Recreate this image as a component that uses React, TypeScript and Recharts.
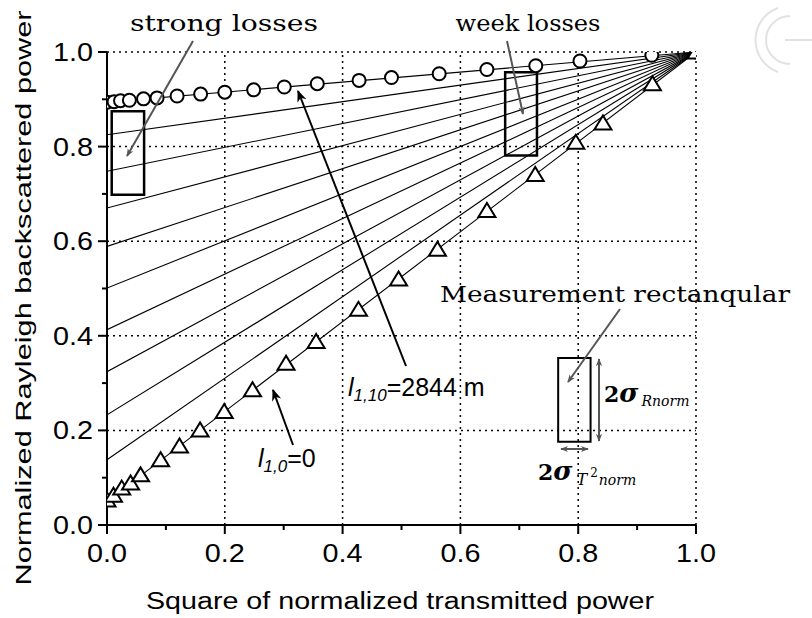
import React from "react";
import { ComposedChart, Scatter, XAxis, YAxis, ReferenceLine, ReferenceArea } from "recharts";

// axis ticks (minor every 0.1, labels / grid every 0.2)
const axisTicks = [0, 0.1, 0.2, 0.3, 0.4, 0.5, 0.6, 0.7, 0.8, 0.9, 1.0];
const majorTicks = [0, 0.2, 0.4, 0.6, 0.8, 1.0];
const gridTicks = [0.2, 0.4, 0.6, 0.8, 1.0];

// y-intercepts of the fan of lines that all meet at (1, 1)
const fanIntercepts = [0.894, 0.825, 0.748, 0.67, 0.589, 0.501, 0.413, 0.324, 0.233, 0.138, 0.05];

// circles: strong losses curve
const circleX = [0.0, 0.012, 0.023, 0.038, 0.062, 0.085, 0.119, 0.159, 0.2, 0.249, 0.301, 0.357, 0.428, 0.483, 0.564, 0.645, 0.728, 0.803, 0.925, 1.0];
const circleY = [0.894, 0.895, 0.897, 0.898, 0.901, 0.903, 0.907, 0.911, 0.915, 0.92, 0.926, 0.933, 0.94, 0.946, 0.954, 0.963, 0.971, 0.981, 0.993, 1.0];

// triangles: zero losses curve
const triangleX = [0.0, 0.011, 0.025, 0.04, 0.057, 0.091, 0.123, 0.158, 0.199, 0.247, 0.304, 0.355, 0.427, 0.495, 0.561, 0.645, 0.727, 0.796, 0.842, 0.926, 1.0];
const triangleY = [0.053, 0.063, 0.078, 0.089, 0.106, 0.138, 0.167, 0.201, 0.24, 0.286, 0.342, 0.388, 0.456, 0.52, 0.583, 0.665, 0.741, 0.809, 0.85, 0.933, 1.0];

const circles = circleX.map((x, i) => ({ x, y: circleY[i] }));
const triangles = triangleX.map((x, i) => ({ x, y: triangleY[i] }));
const fanLines = fanIntercepts.map((b) => [
  { x: 0, y: b },
  { x: 1, y: 1 },
]);

const sans = "'Liberation Sans', Arial, sans-serif";
const serif = "'DejaVu Serif', 'Liberation Serif', serif";

const isMajor = (v: number) => majorTicks.some((m) => Math.abs(m - v) < 1e-6);

const XTick = ({ x, y, payload }: any) => {
  const major = isMajor(payload.value);
  return (
    <g>
      <line x1={x} x2={x} y1={payload.value === 0 ? y - 6 : y} y2={y + (major ? 9 : 5)} stroke="#000" strokeWidth={2} />
      {major && (
        <text x={x} y={y + 37} textAnchor="middle" fontFamily={sans} fontSize={26} textLength={40} lengthAdjust="spacingAndGlyphs" fill="#000">
          {payload.value.toFixed(1)}
        </text>
      )}
    </g>
  );
};

const YTick = ({ x, y, payload }: any) => {
  const major = isMajor(payload.value);
  return (
    <g>
      <line x1={x - (major ? 9 : 5)} x2={payload.value === 0 ? x + 6 : x} y1={y} y2={y} stroke="#000" strokeWidth={2} />
      {major && (
        <text x={x - 54} y={y + 9} fontFamily={sans} fontSize={26} textLength={40} lengthAdjust="spacingAndGlyphs" fill="#000">
          {payload.value.toFixed(1)}
        </text>
      )}
    </g>
  );
};

const Circle = ({ cx, cy }: any) => (
  <circle cx={cx} cy={cy} r={6.5} fill="#fff" stroke="#000" strokeWidth={2} />
);

const Triangle = ({ cx, cy }: any) => (
  <path
    d={`M${cx},${cy - 7.5} L${cx - 8.5},${cy + 6.5} L${cx + 8.5},${cy + 6.5} Z`}
    fill="#fff"
    stroke="#000"
    strokeWidth={2}
  />
);

const NoDot = () => <g />;

function Overlay() {
  return (
    <svg width={812} height={618} style={{ position: "absolute", left: 0, top: 0, pointerEvents: "none" }}>
      <defs>
        <marker id="hg" viewBox="0 0 10 10" refX="9" refY="5" markerWidth="8" markerHeight="8" orient="auto-start-reverse" markerUnits="userSpaceOnUse">
          <path d="M0,1 L10,5 L0,9 L3,5 Z" fill="#555" />
        </marker>
        <marker id="hb" viewBox="0 0 10 10" refX="9" refY="5" markerWidth="12" markerHeight="12" orient="auto" markerUnits="userSpaceOnUse">
          <path d="M0,1 L10,5 L0,9 L3,5 Z" fill="#000" />
        </marker>
      </defs>

      {/* watermark */}
      <path d="M778,8 A34,34 0 0 0 778,72" fill="none" stroke="#e2e2e2" strokeWidth={2} />
      <path d="M790,16 A22,22 0 0 0 790,64" fill="none" stroke="#e2e2e2" strokeWidth={2} />
      <line x1={785} x2={812} y1={40} y2={40} stroke="#e2e2e2" strokeWidth={2} />

      {/* axis titles */}
      <text x={0} y={0} transform="translate(31,298) rotate(-90)" textAnchor="middle" fontFamily={sans} fontSize={22} textLength={575} lengthAdjust="spacingAndGlyphs">
        Normalized Rayleigh backscattered power
      </text>
      <text x={400} y={609} textAnchor="middle" fontFamily={sans} fontSize={23} textLength={508} lengthAdjust="spacingAndGlyphs">
        Square of normalized transmitted power
      </text>

      {/* loss annotations */}
      <text x={224} y={31} textAnchor="middle" fontFamily={serif} fontSize={23} textLength={188} lengthAdjust="spacingAndGlyphs">
        strong losses
      </text>
      <line x1={193} y1={41} x2={127} y2={156} stroke="#555" strokeWidth={2} markerEnd="url(#hg)" />
      <text x={528} y={31} textAnchor="middle" fontFamily={serif} fontSize={23} textLength={145} lengthAdjust="spacingAndGlyphs">
        week losses
      </text>
      <line x1={507} y1={41} x2={523} y2={114} stroke="#555" strokeWidth={2} markerEnd="url(#hg)" />

      {/* line labels */}
      <line x1={406} y1={366} x2={298} y2={91} stroke="#000" strokeWidth={2} markerEnd="url(#hb)" />
      <text x={348} y={396} fontFamily={sans} fontSize={25}>
        <tspan fontStyle="italic">l</tspan>
        <tspan fontStyle="italic" fontSize={17} dy={5}>1,10</tspan>
        <tspan dy={-5}>=2844 m</tspan>
      </text>
      <line x1={293} y1={445} x2={273} y2={390} stroke="#000" strokeWidth={2} markerEnd="url(#hb)" />
      <text x={258} y={467} fontFamily={sans} fontSize={25}>
        <tspan fontStyle="italic">l</tspan>
        <tspan fontStyle="italic" fontSize={17} dy={5}>1,0</tspan>
        <tspan dy={-5}>=0</tspan>
      </text>

      {/* measurement rectangle */}
      <text x={440} y={302} fontFamily={serif} fontSize={23} textLength={350} lengthAdjust="spacingAndGlyphs">
        Measurement rectanqular
      </text>
      <line x1={620} y1={309} x2={568} y2={382} stroke="#555" strokeWidth={2} markerEnd="url(#hg)" />
      <line x1={599} y1={359} x2={599} y2={441} stroke="#555" strokeWidth={2} markerStart="url(#hg)" markerEnd="url(#hg)" />
      <line x1={561} y1={449} x2={588} y2={449} stroke="#555" strokeWidth={2} markerStart="url(#hg)" markerEnd="url(#hg)" />
      <text x={604} y={402} fontFamily={serif} fontSize={22}>
        <tspan fontWeight="bold">2</tspan>
        <tspan fontWeight="bold" fontStyle="italic" fontSize={26}>σ</tspan>
        <tspan fontStyle="italic" fontSize={14} dy={4} dx={3}>Rnorm</tspan>
      </text>
      <text x={538} y={480} fontFamily={serif} fontSize={22}>
        <tspan fontWeight="bold">2</tspan>
        <tspan fontWeight="bold" fontStyle="italic" fontSize={26}>σ</tspan>
        <tspan fontStyle="italic" fontSize={16} dx={4} dy={5}>T</tspan>
        <tspan fontSize={12} dx={3} dy={-8}>2</tspan>
        <tspan fontStyle="italic" fontSize={14} dx={1} dy={8}>norm</tspan>
      </text>
    </svg>
  );
}

export default function App() {
  return (
    <div style={{ position: "absolute", left: 0, top: 0, width: 812, height: 618, background: "#fff" }}>
      <ComposedChart width={812} height={618} margin={{ top: 52, right: 116, left: 37, bottom: 33 }}>
        <XAxis
          type="number"
          dataKey="x"
          domain={[0, 1]}
          ticks={axisTicks}
          interval={0}
          tickSize={0}
          tickMargin={0}
          tickLine={false}
          tick={<XTick />}
          axisLine={{ stroke: "#000", strokeWidth: 2 }}
          height={60}
          allowDataOverflow
        />
        <YAxis
          type="number"
          dataKey="y"
          domain={[0, 1]}
          ticks={axisTicks}
          interval={0}
          tickSize={0}
          tickMargin={0}
          tickLine={false}
          tick={<YTick />}
          axisLine={{ stroke: "#000", strokeWidth: 2 }}
          width={70}
          allowDataOverflow
        />
        {gridTicks.map((v) => (
          <ReferenceLine key={`gx${v}`} x={v} stroke="#000" strokeWidth={1.5} strokeDasharray="2 4" />
        ))}
        {gridTicks.map((v) => (
          <ReferenceLine key={`gy${v}`} y={v} stroke="#000" strokeWidth={1.5} strokeDasharray="2 4" />
        ))}
        <ReferenceArea x1={0.008} x2={0.063} y1={0.698} y2={0.875} fill="none" stroke="#000" strokeWidth={2.5} fillOpacity={0} />
        <ReferenceArea x1={0.676} x2={0.73} y1={0.781} y2={0.957} fill="none" stroke="#000" strokeWidth={2.5} fillOpacity={0} />
        <ReferenceArea x1={0.766} x2={0.821} y1={0.176} y2={0.353} fill="none" stroke="#000" strokeWidth={2} fillOpacity={0} />
        {fanLines.map((d, i) => (
          <Scatter
            key={`fan${i}`}
            data={d}
            line={{ stroke: "#000", strokeWidth: 1.1 }}
            shape={<NoDot />}
            isAnimationActive={false}
          />
        ))}
        <Scatter data={circles} shape={<Circle />} isAnimationActive={false} />
        <Scatter data={triangles} shape={<Triangle />} isAnimationActive={false} />
      </ComposedChart>
      <Overlay />
    </div>
  );
}
